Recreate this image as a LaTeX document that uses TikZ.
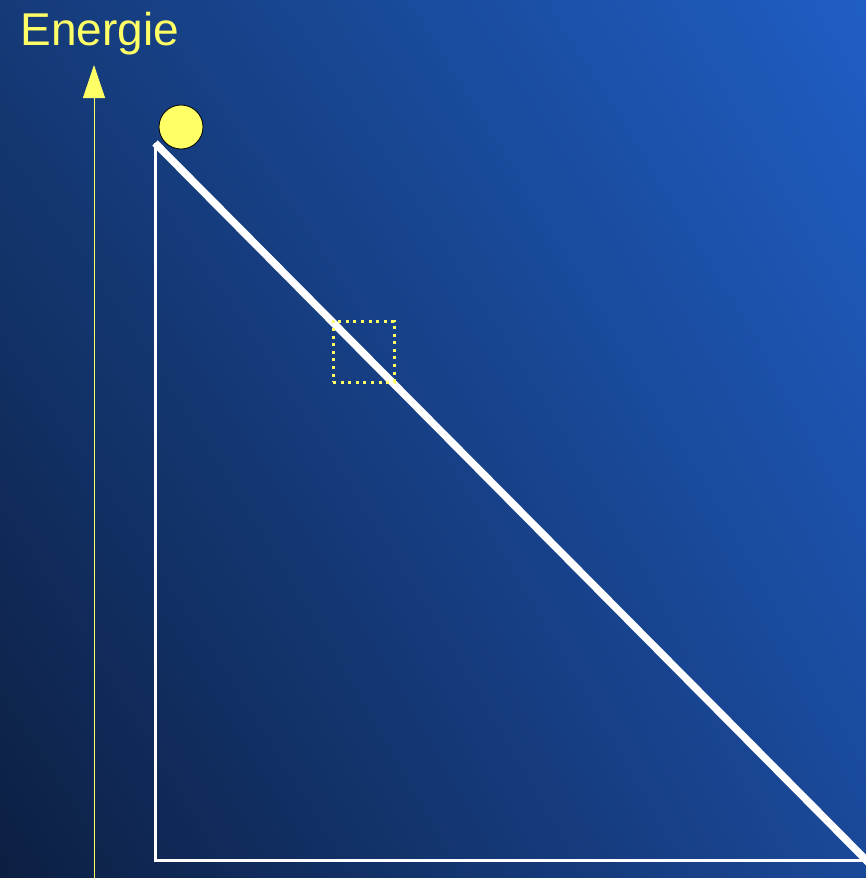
\documentclass[tikz,border=0pt]{standalone}
\usepackage{fontspec}
\setmainfont{Liberation Sans}
\usetikzlibrary{arrows.meta,shadings}
\definecolor{yel}{HTML}{FFFF66}
\definecolor{bgTL}{HTML}{153A78}
\definecolor{bgTR}{HTML}{1F5EC4}
\definecolor{bgBL}{HTML}{0C1F42}
\definecolor{bgBR}{HTML}{1A4898}
\tikzset{
  leg/.style={draw=white, line width=3pt},
  slope/.style={draw=white, line width=7.5pt},
  axisline/.style={draw=yel, line width=1pt, -{Triangle[length=33pt,width=22pt]}},
  marker/.style={draw=yel, line width=3pt, dash pattern=on 3pt off 4.6pt, minimum size=61pt, inner sep=0pt},
  ball/.style={circle, fill=yel, draw=black, line width=0.8pt, minimum size=44pt, inner sep=0pt},
  label/.style={text=yel, font=\fontsize{46}{50}\selectfont, inner sep=0pt}
}
\begin{document}
\begin{tikzpicture}[x=1pt,y=-1pt]
\useasboundingbox (0,0) rectangle (866,878);
\shade[upper left=bgTL, upper right=bgTR, lower left=bgBL, lower right=bgBR] (0,0) rectangle (866,878);
\begin{scope}
\clip (0,0) rectangle (866,878);
\node[label] (title) at (100,34) {Energie};
\coordinate (axbot) at (94,880);
\coordinate (axtop) at (94,65);
\draw[axisline] (axbot) -- (axtop);
\coordinate (top) at (155,143);
\coordinate (corner) at (155,860);
\coordinate (right) at (866,860);
\coordinate (slopeend) at (872,866);
\draw[leg] (top) -- (corner) -- (right);
\draw[slope] (top) -- (slopeend);
\node[marker] (box) at (363.5,351.5) {};
\node[ball] (sphere) at (181,127) {};
\end{scope}
\end{tikzpicture}
\end{document}
